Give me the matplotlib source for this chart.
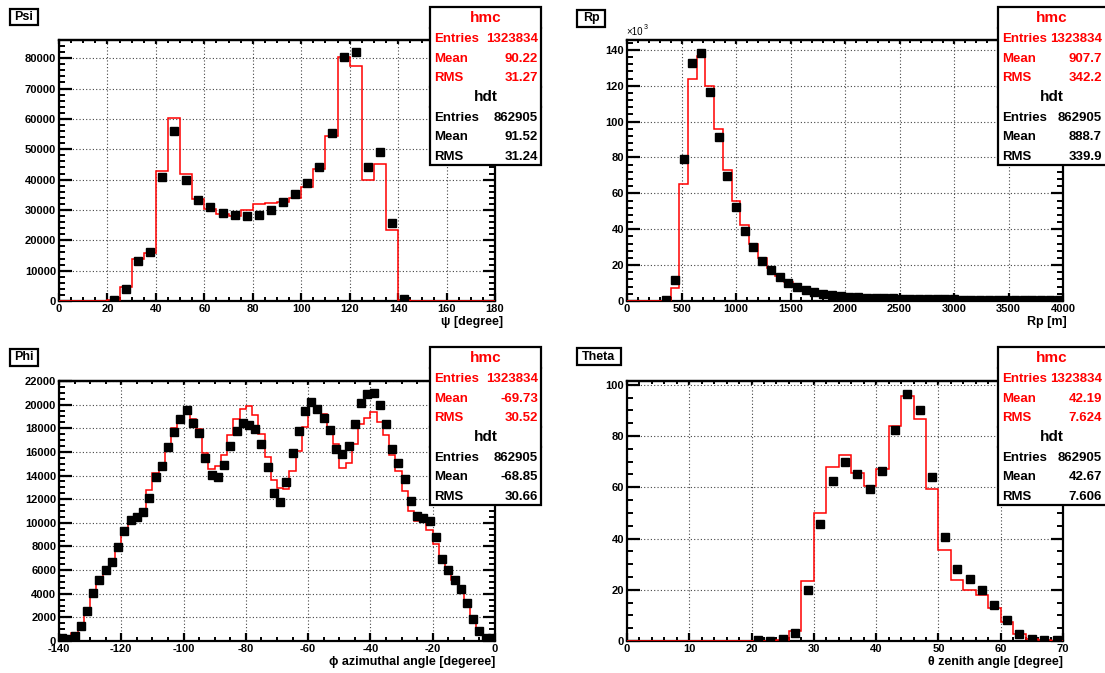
import numpy as np
import matplotlib
matplotlib.use("Agg")
import matplotlib.pyplot as plt
from matplotlib.patches import Rectangle
from matplotlib.lines import Line2D
from matplotlib.ticker import MultipleLocator, AutoMinorLocator

plt.rcParams['font.family'] = ['Liberation Sans', 'DejaVu Sans']
plt.rcParams['axes.unicode_minus'] = False

W, H = 1105, 673

# ---- Psi: 36 bins, 0..180 ----
psi_range = (0, 180, 36)
psi_mc = [0, 0, 0, 0, 300, 4700, 14000, 15900, 43000, 60200, 42000, 33500,
          30200, 28600, 28100, 29900, 31900, 32400, 32600, 34100, 37400, 43400,
          54400, 80500, 77500, 39800, 45300, 23400, 300, 0, 0, 0, 0, 0, 0, 0]
psi_dt = [np.nan] * 4 + [300, 3800, 13300, 16000, 40700, 56000, 39800, 33400,
          30900, 29100, 28200, 27900, 28500, 29900, 32500, 35300, 38900, 44300,
          55500, 80300, 81900, 44000, 49100, 25600, 700] + [np.nan] * 7

# ---- Rp: 50 bins, 0..4000 (x10^3 entries) ----
rp_range = (0, 4000, 50)
rp_mc = [0, 0, 0, 0, 0, 7.1, 65.5, 123.7, 136.7, 119.8, 96.0, 73.2, 55.7, 42.3,
         31.6, 24.1, 18.6, 13.9, 10.8, 8.2, 6.3, 4.9, 3.8, 3.0, 2.4, 2.0, 1.7,
         1.4, 1.2, 1.0, 0.9, 0.8, 0.7, 0.65, 0.6, 0.55, 0.5, 0.45, 0.42, 0.4,
         0.37, 0.35, 0.33, 0.3, 0.28, 0.26, 0.24, 0.22, 0.2, 0.18]
rp_dt = [np.nan] * 4 + [0.5, 11.7, 78.9, 132.8, 138.1, 116.6, 91.5, 69.6, 52.4,
         39.2, 29.9, 22.5, 17.3, 13.2, 10.2, 8.0, 6.3, 4.8, 3.9, 3.2, 2.7, 2.3,
         2.0, 1.8, 1.6, 1.5, 1.4, 1.3, 1.2, 1.1, 1.0, 0.95, 0.9, 0.85, 0.8, 0.75,
         0.7, 0.7, 0.65, 0.6, 0.6, 0.55, 0.55, 0.5, 0.5, 0.5]

# ---- Phi: 70 bins, -140..0 ----
phi_range = (-140, 0, 70)
phi_mc = [230, 280, 650, 1500, 2490, 4040, 5030, 6020, 6930, 7780,
          9130, 10120, 10600, 11060, 12750, 14220, 15070, 16430, 18040, 18800,
          19540, 18800, 17960, 15920, 14560, 14790, 15780, 17390, 18750, 19650,
          19880, 19090, 17530, 15550, 13660, 12950, 12890, 14420, 16060, 18120,
          19990, 19710, 19170, 17480, 16680, 14650, 15070, 16710, 18320, 18890,
          19370, 18520, 17420, 15780, 14360, 12670, 10970, 10180, 10040, 9420,
          8230, 6870, 6220, 5120, 4130, 3000, 2120, 1130, 370, 85]
phi_dt = [230, 170, 450, 1270, 2570, 4070, 5120, 5970, 6700, 7950,
          9300, 10210, 10490, 10940, 12130, 13910, 14790, 16400, 17670, 18780,
          19510, 18410, 17560, 15500, 14030, 13860, 14900, 16510, 17730, 18470,
          18270, 17960, 16660, 14730, 12530, 11760, 13430, 15950, 17730, 19460,
          20220, 19630, 18830, 17840, 16230, 15860, 16540, 18320, 20160, 20870,
          20980, 19960, 18320, 16230, 15070, 13710, 11850, 10600, 10410, 10120,
          8790, 6980, 5990, 5170, 4380, 3250, 1890, 850, 280, 280]

# ---- Theta: 35 bins, 0..70 (x10^3 entries) ----
theta_range = (0, 70, 35)
theta_mc = [0] * 12 + [0.4, 3.9, 23.5, 50.1, 67.9, 72.7, 65.7, 60.4, 67.3, 83.8,
            95.8, 86.6, 59.2, 35.7, 23.8, 20.1, 17.8, 12.7, 7.5, 2.7, 0.8, 0.4, 0.1]
theta_dt = [np.nan] * 10 + [0.2, 0.15, 0.8, 3.2, 19.9, 45.8, 62.3, 69.9, 65.1,
            59.2, 66.5, 82.2, 96.5, 90.0, 64.0, 40.6, 28.3, 24.3, 19.9, 13.9,
            8.2, 2.6, 0.8, 0.3, 0.2]

stats = {
    'Psi': (('1323834', '90.22', '31.27'), ('862905', '91.52', '31.24')),
    'Rp': (('1323834', '907.7', '342.2'), ('862905', '888.7', '339.9')),
    'Phi': (('1323834', '-69.73', '30.52'), ('862905', '-68.85', '30.66')),
    'Theta': (('1323834', '42.19', '7.624'), ('862905', '42.67', '7.606')),
}

fig = plt.figure(figsize=(W / 100, H / 100), dpi=100)


def fx(px):
    return px / W


def fy(py):
    return 1 - py / H


def panel(name, rng, mc, dt, ylim, xmaj, xsub, ymaj, ysub, xtitle,
          left, top, bottom, title_box, x10=False, title_dx=0):
    lo, hi, n = rng
    edges = np.linspace(lo, hi, n + 1)
    centers = 0.5 * (edges[:-1] + edges[1:])
    ax = fig.add_axes([fx(left), fy(bottom), fx(436), (bottom - top) / H])
    ax.stairs(mc, edges, color='red', lw=1.1, zorder=3)
    ax.plot(centers, dt, 's', color='black', ms=5.6, zorder=4)
    ax.set_xlim(lo, hi)
    ax.set_ylim(0, ylim)
    ax.xaxis.set_major_locator(MultipleLocator(xmaj))
    ax.xaxis.set_minor_locator(AutoMinorLocator(xsub))
    ax.yaxis.set_major_locator(MultipleLocator(ymaj))
    ax.yaxis.set_minor_locator(AutoMinorLocator(ysub))
    ax.grid(True, which='major', color='#444444', lw=0.8, ls=(0, (1, 2)))
    for s in ax.spines.values():
        s.set_linewidth(1.6)
    ax.tick_params(axis='y', which='major', direction='in', length=9, width=1.6,
                   right=True, labelsize=8, pad=2)
    ax.tick_params(axis='y', which='minor', direction='in', length=4.5, width=1.4,
                   right=True)
    ax.tick_params(axis='x', which='major', direction='in', length=5.5, width=1.6,
                   labelsize=8, pad=2)
    ax.tick_params(axis='x', which='minor', direction='in', length=3, width=1.4)
    for lab in ax.get_xticklabels() + ax.get_yticklabels():
        lab.set_fontweight('bold')
    sec = ax.secondary_xaxis('top')
    sec.xaxis.set_major_locator(MultipleLocator(xmaj))
    sec.xaxis.set_minor_locator(AutoMinorLocator(xsub))
    sec.tick_params(which='major', direction='in', length=3, width=1.6, labeltop=False)
    sec.tick_params(which='minor', direction='in', length=2, width=1.4)
    sec.spines['top'].set_linewidth(1.6)
    # axis title
    fig.text(fx(left + 436 + title_dx), fy(bottom + 21), xtitle, ha='right',
             va='center', fontsize=9, fontweight='bold')
    # name box
    bx0, by0, bx1, by1 = title_box
    fig.text(fx((bx0 + bx1) / 2), fy((by0 + by1) / 2), name, ha='center',
             va='center', fontsize=9, fontweight='bold')
    fig.add_artist(Rectangle((fx(bx0), fy(by1)), fx(bx1 - bx0), (by1 - by0) / H,
                             transform=fig.transFigure, fill=False, lw=1.6,
                             ec='black'))
    if x10:
        fig.text(fx(left - 1), fy(top - 3), '\u00d710', ha='left', va='bottom',
                 fontsize=7)
        fig.text(fx(left + 17), fy(top - 9), '3', ha='left', va='bottom',
                 fontsize=5)
    return ax


def stats_box(x0, y0, x1, mcs, dts):
    def hline(py):
        fig.add_artist(Line2D([fx(x0), fx(x1)], [fy(py), fy(py)],
                              transform=fig.transFigure, color='black', lw=1.6))
    fig.add_artist(Rectangle((fx(x0), fy(y0 + 158)), fx(x1 - x0), 158 / H,
                             transform=fig.transFigure, fc='white', ec='black',
                             lw=1.6, zorder=5))
    hline(y0 + 21)
    hline(y0 + 80)
    hline(y0 + 100)
    xr = min(x1, 1105) - 3
    xm = (x0 + min(x1, 1105)) / 2
    fig.text(fx(xm), fy(y0 + 11), 'hmc', color='red', ha='center', va='center',
             fontsize=11, fontweight='bold', zorder=6)
    fig.text(fx(xm), fy(y0 + 90), 'hdt', color='black', ha='center', va='center',
             fontsize=11, fontweight='bold', zorder=6)
    names = ['Entries', 'Mean', 'RMS']
    for i, (nm, v) in enumerate(zip(names, mcs)):
        yy = y0 + 32 + i * 19.5
        fig.text(fx(x0 + 4), fy(yy), nm, color='red', ha='left', va='center',
                 fontsize=9.5, fontweight='bold', zorder=6)
        fig.text(fx(xr), fy(yy), v, color='red', ha='right', va='center',
                 fontsize=9.5, fontweight='bold', zorder=6)
    for i, (nm, v) in enumerate(zip(names, dts)):
        yy = y0 + 111 + i * 19.5
        fig.text(fx(x0 + 4), fy(yy), nm, color='black', ha='left', va='center',
                 fontsize=9.5, fontweight='bold', zorder=6)
        fig.text(fx(xr), fy(yy), v, color='black', ha='right', va='center',
                 fontsize=9.5, fontweight='bold', zorder=6)


panel('Psi', psi_range, psi_mc, psi_dt, 86000, 20, 4, 10000, 5,
      '\u03c8 [degree]', 59, 40, 301, (10, 9, 38, 25), title_dx=8)
panel('Rp', rp_range, rp_mc, rp_dt, 145.5, 500, 5, 20, 5,
      'Rp [m]', 627, 40, 301, (577, 10, 605, 27), x10=True, title_dx=4)
panel('Phi', phi_range, phi_mc, phi_dt, 22000, 20, 4, 2000, 4,
      '\u03d5 azimuthal angle [degeree]', 59, 381, 641, (10, 349, 38, 366))
panel('Theta', theta_range, theta_mc, theta_dt, 101.5, 10, 5, 20, 4,
      '\u03b8 zenith angle [degree]', 627, 381, 641, (577, 348, 621, 365))

stats_box(430, 7, 541, *stats['Psi'])
stats_box(998, 7, 1110, *stats['Rp'])
stats_box(430, 347, 541, *stats['Phi'])
stats_box(998, 347, 1110, *stats['Theta'])

fig.savefig('out.png', dpi=100)
